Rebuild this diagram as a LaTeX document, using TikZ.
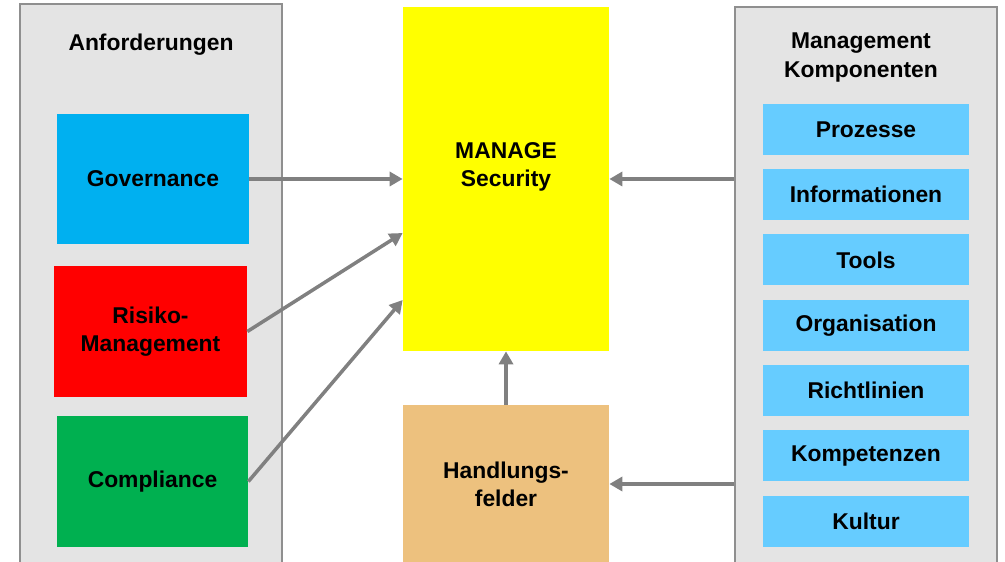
\documentclass[tikz,border=0pt]{standalone}
\usepackage{fontspec}
\setmainfont{Liberation Sans}
\usepackage{xcolor}
\usetikzlibrary{arrows.meta, positioning}
\definecolor{panelgray}{HTML}{E4E4E4}
\definecolor{panelline}{HTML}{8F8F8F}
\definecolor{arrowgray}{HTML}{808080}
\definecolor{govblue}{HTML}{00B0F0}
\definecolor{riskred}{HTML}{FF0000}
\definecolor{compgreen}{HTML}{00B050}
\definecolor{secyellow}{HTML}{FFFF00}
\definecolor{handtan}{HTML}{EDC17E}
\definecolor{kompblue}{HTML}{66CCFF}
\tikzset{
    panel/.style={rectangle, minimum width=5.24cm, draw=panelline, line width=0.6pt, fill=panelgray, inner sep=0pt},
    title/.style={font=\fontsize{13}{16}\selectfont\bfseries, align=center, inner sep=0pt},
    block/.style={rectangle, minimum height=2.62cm, inner sep=0pt, text centered, align=center, font=\fontsize{13}{16}\selectfont\bfseries},
    kompbox/.style={rectangle, minimum width=4.12cm, minimum height=1.02cm, inner sep=0pt, outer sep=0pt, fill=kompblue, font=\fontsize{13}{16}\selectfont\bfseries},
    arrow/.style={draw=arrowgray, line width=2pt, -{Triangle[length=0.26cm,width=0.28cm]}},
}
\begin{document}
\begin{tikzpicture}
  \useasboundingbox (0,0) rectangle (20.1,-11.24);
  % panels
  \node[panel, minimum height=11.22cm] (panelL) at (3.02,-5.69) {};
  \node[panel, minimum height=11.16cm] (panelR) at (17.32,-5.72) {};
  \node[title] (titleL) at (3.02,-0.9) {Anforderungen};
  \node[title] (titleR) at (17.22,-1.15) {Management\\Komponenten};

  % Anforderungen
  \node[block, fill=govblue, minimum width=3.84cm, minimum height=2.6cm] (gov) at (3.06,-3.58) {Governance};
  \node[block, fill=riskred, minimum width=3.86cm] (risk) at (3.01,-6.63) {Risiko-\\Management};
  \node[block, fill=compgreen, minimum width=3.82cm] (comp) at (3.05,-9.63) {Compliance};

  % center
  \node[block, fill=secyellow, minimum width=4.12cm, minimum height=6.88cm] (sec) at (10.12,-3.58) {};
  \node[title] (sectext) at ([yshift=0.24cm]sec.center) {MANAGE\\Security};
  \node[block, fill=handtan, minimum width=4.12cm, minimum height=3.16cm] (hand) at (10.12,-9.68) {Handlungs-\\felder};

  % Komponenten
  \node[kompbox] (proz) at (17.32,-2.59) {Prozesse};
  \node[kompbox] (info) [below=0.285cm of proz] {Informationen};
  \node[kompbox] (tools) [below=0.285cm of info] {Tools};
  \node[kompbox] (orga) [below=0.285cm of tools] {Organisation};
  \node[kompbox] (richt) [below=0.285cm of orga] {Richtlinien};
  \node[kompbox] (kompe) [below=0.285cm of richt] {Kompetenzen};
  \node[kompbox] (kult) [below=0.285cm of kompe] {Kultur};

  % arrows
  \draw[arrow] (gov.east) -- (sec.west);
  \draw[arrow] (risk.east) -- ([yshift=-1.08cm]sec.west);
  \draw[arrow] (comp.east) -- ([yshift=-2.42cm]sec.west);
  \draw[arrow] (hand.north) -- (sec.south);
  \draw[arrow] (panelR.west |- sec.east) -- (sec.east);
  \draw[arrow] (panelR.west |- hand.east) -- (hand.east);
\end{tikzpicture}
\end{document}
